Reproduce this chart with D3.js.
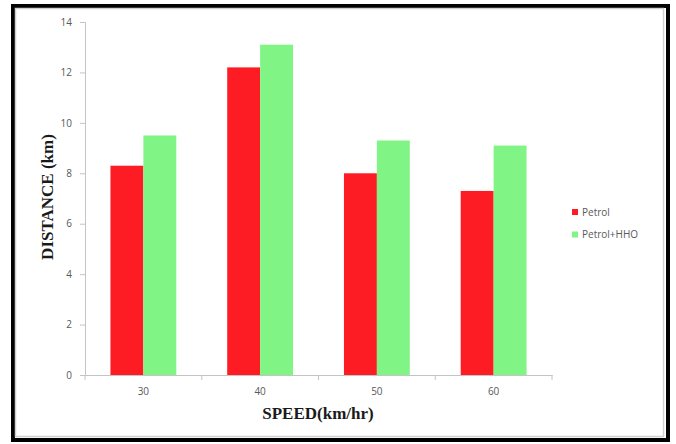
<!DOCTYPE html>
<html><head><meta charset="utf-8">
<script src="https://cdn.jsdelivr.net/npm/d3@7"></script>
<style>body{margin:0;background:#fff}svg{display:block}</style>
</head><body>
<svg id="c" width="676" height="444"></svg>
<script>
const categories = ["30", "40", "50", "60"];
const seriesNames = ["Petrol", "Petrol+HHO"];
const petrol = [8.3, 12.2, 8.0, 7.3];
const petrolHHO = [9.5, 13.1, 9.3, 9.1];
const yTicks = [0, 2, 4, 6, 8, 10, 12, 14];
const colors = ["#fe1c24", "#80f585"];

const svg = d3.select("#c");
// frame
svg.append("rect").attr("x", 13).attr("y", 6).attr("width", 655).attr("height", 434)
  .attr("fill", "#fff").attr("stroke", "#000").attr("stroke-width", 4);
svg.append("rect").attr("x", 15.5).attr("y", 8.5).attr("width", 648).attr("height", 428)
  .attr("fill", "none").attr("stroke", "#d0d0d0").attr("stroke-width", 1.5);

const m = {left: 85, right: 552, top: 22, bottom: 375};
const x0 = d3.scaleBand().domain(categories).range([m.left, m.right])
  .paddingInner(0.436).paddingOuter(0.218);
const x1 = d3.scaleBand().domain(seriesNames).range([0, x0.bandwidth()]);
const y = d3.scaleLinear().domain([0, 14]).range([m.bottom, m.top]);

const data = categories.map((c, i) => ({cat: c, vals: [petrol[i], petrolHHO[i]]}));

const g = svg.append("g");
g.selectAll("g.grp").data(data).join("g").attr("class", "grp")
  .attr("transform", d => `translate(${x0(d.cat)},0)`)
  .selectAll("rect").data(d => d.vals.map((v, j) => ({name: seriesNames[j], v, j})))
  .join("rect")
  .attr("x", d => x1(d.name)).attr("width", x1.bandwidth())
  .attr("y", d => y(d.v)).attr("height", d => y(0) - y(d.v))
  .attr("fill", d => colors[d.j]);

// y axis
const yAxis = d3.axisLeft(y).tickValues(yTicks).tickSize(5).tickPadding(8).tickFormat(d3.format("d"));
const ya = svg.append("g").attr("transform", `translate(${m.left},0)`).call(yAxis);
ya.select(".domain").attr("stroke", "#c4c4c4");
ya.selectAll(".tick line").attr("stroke", "#c4c4c4");
ya.selectAll(".tick text").attr("fill", "#595959").attr("font-family", "Open Sans, sans-serif").attr("font-size", 10);

// x axis
const xAxis = d3.axisBottom(x0).tickSize(0).tickPadding(13);
const xa = svg.append("g").attr("transform", `translate(0,${m.bottom})`).call(xAxis);
xa.select(".domain").attr("stroke", "#c4c4c4");
xa.selectAll(".tick text").attr("fill", "#595959").attr("font-family", "Open Sans, sans-serif").attr("font-size", 10);
const bounds = categories.map(c => x0(c) - x0.step() * x0.paddingInner() / 2);
bounds.push(m.right);
bounds[0] = m.left;
xa.selectAll("line.sep").data(bounds).join("line").attr("class", "sep")
  .attr("x1", d => d).attr("x2", d => d).attr("y1", 0).attr("y2", 5)
  .attr("stroke", "#c4c4c4");

// titles
svg.append("text").attr("x", 318).attr("y", 419).attr("text-anchor", "middle")
  .attr("font-family", "Liberation Serif, Times New Roman, serif").attr("font-weight", "bold")
  .attr("font-size", 17).attr("fill", "#1a1a1a").text("SPEED(km/hr)");
svg.append("text").attr("transform", "translate(53,197) rotate(-90)").attr("text-anchor", "middle")
  .attr("font-family", "Liberation Serif, Times New Roman, serif").attr("font-weight", "bold")
  .attr("font-size", 17).attr("fill", "#1a1a1a").text("DISTANCE  (km)");

// legend
const leg = svg.append("g").attr("transform", "translate(572,212)");
seriesNames.forEach((n, i) => {
  const row = leg.append("g").attr("transform", `translate(0,${i * 22.5})`);
  row.append("rect").attr("x", 0).attr("y", -3).attr("width", 6).attr("height", 6).attr("fill", colors[i]);
  row.append("text").attr("x", 10).attr("y", 0).attr("dy", "0.35em")
    .attr("font-family", "Open Sans, sans-serif").attr("font-size", 10).attr("fill", "#595959").text(n);
});
</script>
</body></html>
